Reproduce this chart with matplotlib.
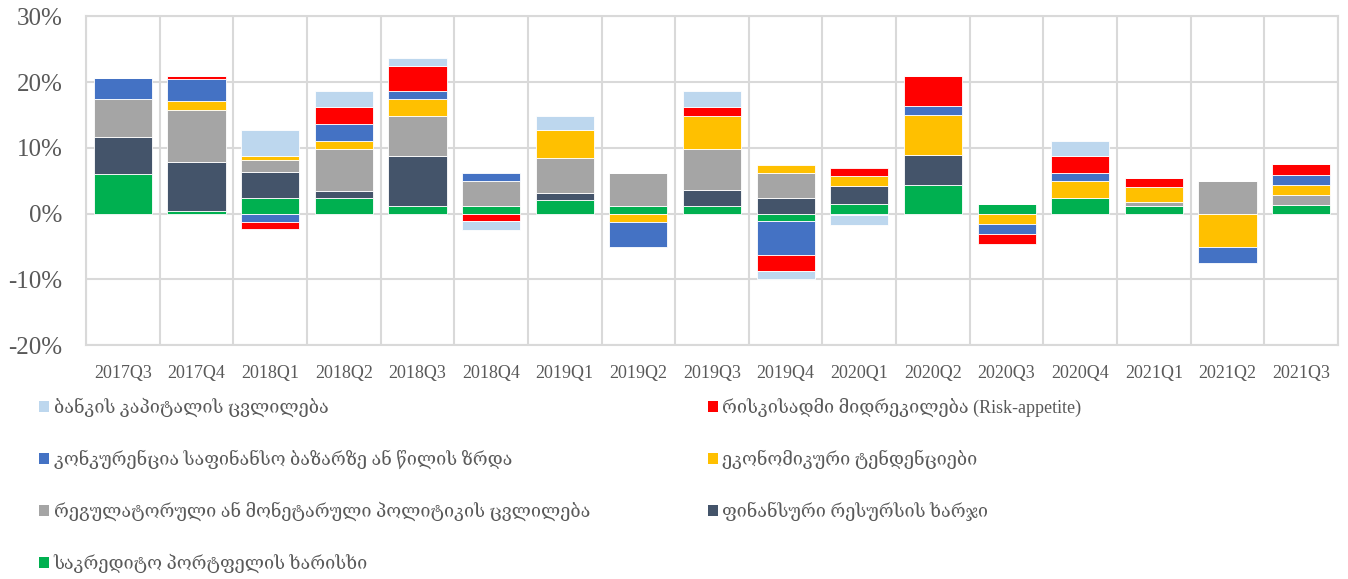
import numpy as np
import matplotlib.pyplot as plt
from matplotlib.patches import Patch

# quarters on the x axis
quarters = ['2017Q3', '2017Q4', '2018Q1', '2018Q2', '2018Q3', '2018Q4', '2019Q1',
            '2019Q2', '2019Q3', '2019Q4', '2020Q1', '2020Q2', '2020Q3', '2020Q4',
            '2021Q1', '2021Q2', '2021Q3']

# series values, %
credit_quality = [6.0, 0.4, 2.4, 2.4, 1.2, 1.2, 2.1, 1.2, 1.2, -1.2, 1.4, 4.4, 1.4, 2.3, 1.2, 0.0, 1.3]
funding_cost = [5.6, 7.5, 3.9, 1.1, 7.5, 0.0, 1.0, 0.0, 2.4, 2.3, 2.8, 4.5, 0.0, 0.0, 0.0, 0.0, 0.0]
regulation = [5.8, 7.9, 1.9, 6.3, 6.2, 3.7, 5.4, 4.9, 6.2, 3.8, 0.0, 0.0, 0.0, 0.0, 0.6, 4.9, 1.6]
economy = [0.0, 1.3, 0.5, 1.3, 2.5, 0.0, 4.2, -1.3, 5.1, 1.3, 1.5, 6.1, -1.6, 2.6, 2.3, -5.1, 1.5]
competition = [3.2, 3.4, -1.3, 2.6, 1.3, 1.2, 0.0, -3.8, 0.0, -5.1, -0.2, 1.4, -1.5, 1.2, 0.0, -2.4, 1.5]
risk_appetite = [0.0, 0.5, -1.0, 2.5, 3.7, -1.2, 0.0, 0.0, 1.3, -2.5, 1.3, 4.5, -1.5, 2.6, 1.3, 0.0, 1.6]
bank_capital = [0.0, 0.0, 4.0, 2.5, 1.3, -1.3, 2.2, 0.0, 2.5, -1.2, -1.6, 0.0, 0.0, 2.4, 0.0, 0.0, 0.0]

labels = {
    'credit': 'საკრედიტო პორტფელის ხარისხი',
    'funding': 'ფინანსური რესურსის ხარჯი',
    'reg': 'რეგულატორული ან მონეტარული პოლიტიკის ცვლილება',
    'econ': 'ეკონომიკური ტენდენციები',
    'comp': 'კონკურენცია საფინანსო ბაზარზე ან წილის ზრდა',
    'risk': 'რისკისადმი მიდრეკილება (Risk-appetite)',
    'capital': 'ბანკის კაპიტალის ცვლილება',
}

series = [
    ('credit', credit_quality, '#00B050'),
    ('funding', funding_cost, '#44546A'),
    ('reg', regulation, '#A5A5A5'),
    ('econ', economy, '#FFC000'),
    ('comp', competition, '#4472C4'),
    ('risk', risk_appetite, '#FF0000'),
    ('capital', bank_capital, '#BDD7EE'),
]

txt = '#595959'
serif = ['Liberation Serif', 'DejaVu Serif']

fig = plt.figure(figsize=(13.48, 5.79), dpi=100)
ax = fig.add_axes([0.0638, 0.404, 0.9288, 0.5678])

x = np.arange(len(quarters))
pos_base = np.zeros(len(quarters))
neg_base = np.zeros(len(quarters))
handles = {}
for key, vals, col in series:
    v = np.array(vals)
    bottom = np.where(v >= 0, pos_base, neg_base)
    ax.bar(x, v, 0.79, bottom=bottom, color=col, edgecolor='white', linewidth=0.6, zorder=3)
    pos_base = pos_base + np.where(v > 0, v, 0)
    neg_base = neg_base + np.where(v < 0, v, 0)
    handles[key] = Patch(facecolor=col, edgecolor='none', label=labels[key])

ax.set_xlim(-0.5, len(quarters) - 0.5)
ax.set_ylim(-20, 30)
ax.set_yticks([-20, -10, 0, 10, 20, 30])
ax.set_yticklabels(['-20%', '-10%', '0%', '10%', '20%', '30%'], family=serif, fontsize=18, color=txt)
ax.set_xticks(x)
ax.set_xticklabels(quarters, family=serif, fontsize=13, color=txt)
ax.tick_params(axis='x', length=0, pad=14)
ax.tick_params(axis='y', length=0, pad=17)

# vertical grid between categories + horizontal grid
for b in np.arange(-0.5, len(quarters), 1.0):
    ax.axvline(b, color='#D9D9D9', lw=1.5, zorder=1)
ax.grid(axis='y', color='#D9D9D9', lw=1.5, zorder=1)
for s in ax.spines.values():
    s.set_color('#D9D9D9')
    s.set_linewidth(1.5)

left_keys = ['capital', 'comp', 'reg', 'credit']
right_keys = ['risk', 'econ', 'funding']
leg_kw = dict(frameon=False, prop={'family': serif, 'size': 13}, labelcolor=txt,
              handlelength=0.55, handleheight=0.55, handletextpad=0.25,
              labelspacing=1.82, loc='upper left', borderaxespad=0, borderpad=0)
fig.legend(handles=[handles[k] for k in left_keys], bbox_to_anchor=(0.029, 0.313), **leg_kw)
fig.legend(handles=[handles[k] for k in right_keys], bbox_to_anchor=(0.525, 0.313), **leg_kw)

fig.savefig('out.png', dpi=100)
